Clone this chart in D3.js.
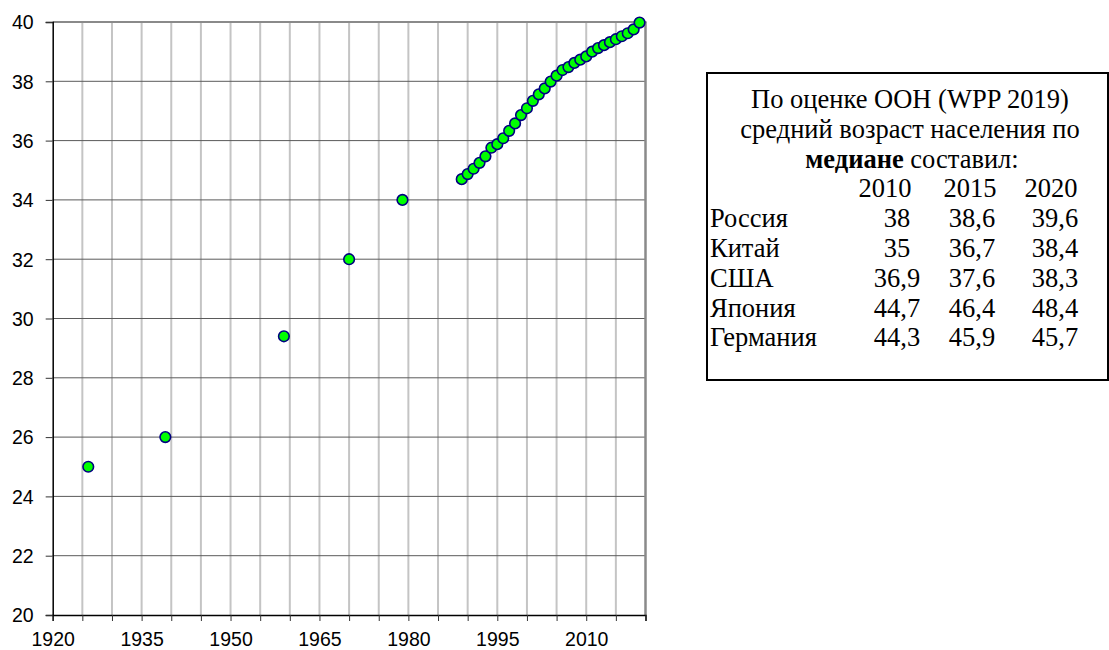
<!DOCTYPE html>
<html><head><meta charset="utf-8">
<script src="https://cdn.jsdelivr.net/npm/d3@7/dist/d3.min.js"></script>
<style>body{margin:0;background:#fff;} svg{display:block}</style>
</head><body>
<svg id="c" width="1109" height="650"></svg>
<script>
// ---- data ----
const censusYears  = [1926, 1939, 1959, 1970, 1979];
const censusValues = [25.0, 26.0, 29.4, 32.0, 34.0];
const annualYears  = [1989,1990,1991,1992,1993,1994,1995,1996,1997,1998,1999,
                      2000,2001,2002,2003,2004,2005,2006,2007,2008,2009,
                      2010,2011,2012,2013,2014,2015,2016,2017,2018,2019];
const annualValues = [34.70,34.87,35.05,35.25,35.47,35.76,35.88,36.08,36.33,36.58,36.86,
                      37.09,37.34,37.56,37.76,37.99,38.19,38.38,38.48,38.62,38.73,
                      38.84,39.00,39.12,39.22,39.32,39.42,39.52,39.62,39.75,39.98];
const xTickLabels = [1920, 1935, 1950, 1965, 1980, 1995, 2010];
const xGridYears  = [1925,1930,1935,1940,1945,1950,1955,1960,1965,1970,1975,1980,1985,1990,1995,2000,2005,2010,2015];
const yTickLabels = [20, 22, 24, 26, 28, 30, 32, 34, 36, 38, 40];

const noteTitle   = ["По оценке ООН (WPP 2019)", "средний возраст населения по"];
const noteBold    = "медиане";
const noteRest    = " составил:";
const tableYears  = ["2010", "2015", "2020"];
const countries   = ["Россия", "Китай", "США", "Япония", "Германия"];
const median2010  = [38, 35, 36.9, 44.7, 44.3];
const median2015  = [38.6, 36.7, 37.6, 46.4, 45.9];
const median2020  = [39.6, 38.4, 38.3, 48.4, 45.7];

// ---- chart ----
const svg = d3.select("#c");
const x = d3.scaleLinear().domain([1920, 2020]).range([52.7, 645.5]);
const y = d3.scaleLinear().domain([20, 40]).range([615, 22]);

// vertical grid
svg.append("g").selectAll("line").data(xGridYears).join("line")
  .attr("x1", d => x(d)).attr("x2", d => x(d))
  .attr("y1", y(40)).attr("y2", y(20))
  .attr("stroke", "#c4c4c4").attr("stroke-width", 2);
// horizontal grid
svg.append("g").selectAll("line").data(yTickLabels.filter(v => v > 20 && v < 40)).join("line")
  .attr("x1", x(1920)).attr("x2", x(2020))
  .attr("y1", d => y(d)).attr("y2", d => y(d))
  .attr("stroke", "#5a5a5a").attr("stroke-width", 1);
// top & right border
svg.append("line").attr("x1", x(1920)).attr("x2", x(2020) + 1).attr("y1", y(40)).attr("y2", y(40))
  .attr("stroke", "#8a8a8a").attr("stroke-width", 2);
svg.append("line").attr("x1", x(2020)).attr("x2", x(2020)).attr("y1", y(40)).attr("y2", y(20))
  .attr("stroke", "#8a8a8a").attr("stroke-width", 2.5);

// axes
const xAxis = d3.axisBottom(x).tickValues([1920].concat(xGridYears, [2020]))
  .tickSize(6).tickFormat(d => xTickLabels.includes(d) ? d : "");
const gx = svg.append("g").attr("transform", `translate(0,${y(20)})`).call(xAxis);
gx.select(".domain").attr("stroke", "#000").attr("stroke-width", 1.5);
gx.selectAll(".tick line").attr("stroke", "#333");
gx.selectAll(".tick text").attr("font-family", "Liberation Sans, Arial, sans-serif")
  .attr("font-size", 19.5).attr("fill", "#000").attr("dy", null).attr("y", 30.5);

const yAxis = d3.axisLeft(y).tickValues(yTickLabels).tickSize(7).tickFormat(d3.format("d"));
const gy = svg.append("g").attr("transform", `translate(${x(1920)},0)`).call(yAxis);
gy.select(".domain").attr("stroke", "#000").attr("stroke-width", 1.5);
gy.selectAll(".tick line").attr("stroke", "#333");
gy.selectAll(".tick text").attr("font-family", "Liberation Sans, Arial, sans-serif")
  .attr("font-size", 19.5).attr("fill", "#000").attr("x", -19).attr("dy", "0.35em");

// points
const pts = censusYears.map((yr, i) => ({yr, v: censusValues[i]}))
  .concat(annualYears.map((yr, i) => ({yr, v: annualValues[i]})));
svg.append("g").selectAll("circle").data(pts).join("circle")
  .attr("cx", d => x(d.yr)).attr("cy", d => y(d.v)).attr("r", 5.3)
  .attr("fill", "#00ff00").attr("stroke", "#000080").attr("stroke-width", 1.6);

// ---- note box ----
const note = svg.append("g");
note.append("rect").attr("x", 707).attr("y", 73).attr("width", 401).attr("height", 307)
  .attr("fill", "#fff").attr("stroke", "#000").attr("stroke-width", 2);
const serif = "Liberation Serif, Times New Roman, serif";
const fs = 26.5, lh = 29.8, base0 = 108;
noteTitle.forEach((t, i) => {
  note.append("text").attr("x", 910).attr("y", base0 + i * lh).attr("text-anchor", "middle")
    .attr("font-family", serif).attr("font-size", fs).text(t);
});
const t3 = note.append("text").attr("x", 912).attr("y", base0 + 2 * lh).attr("text-anchor", "middle")
  .attr("font-family", serif).attr("font-size", fs);
t3.append("tspan").attr("font-weight", "bold").text(noteBold);
t3.append("tspan").text(noteRest);

const headX = [885, 970, 1051];
const valX  = [897, 972, 1055];
note.selectAll("text.hy").data(tableYears).join("text").attr("class", "hy")
  .attr("x", (d, i) => headX[i]).attr("y", base0 + 3 * lh).attr("text-anchor", "middle")
  .attr("font-family", serif).attr("font-size", fs).text(d => d);
const cols = [median2010, median2015, median2020];
const fmt = v => String(v).replace(".", ",");
countries.forEach((c, r) => {
  const yy = base0 + (4 + r) * lh;
  note.append("text").attr("x", 710).attr("y", yy).attr("font-family", serif)
    .attr("font-size", fs).text(c);
  cols.forEach((col, k) => {
    note.append("text").attr("x", valX[k]).attr("y", yy).attr("text-anchor", "middle")
      .attr("font-family", serif).attr("font-size", fs).text(fmt(col[r]));
  });
});
</script>
</body></html>
